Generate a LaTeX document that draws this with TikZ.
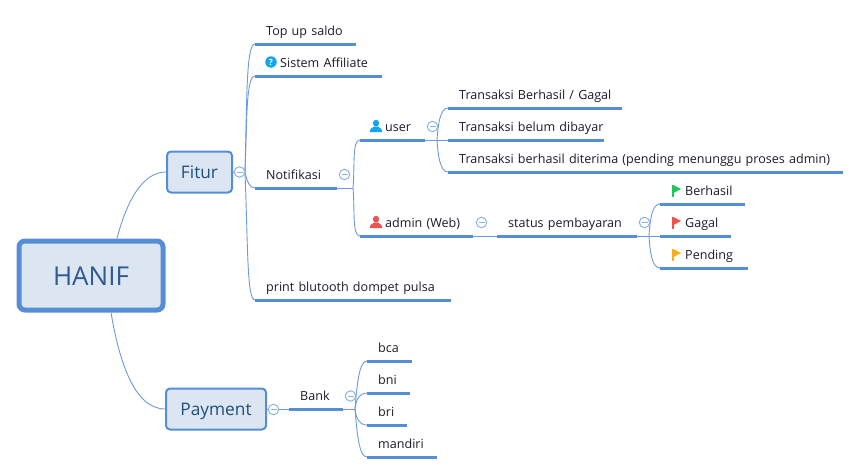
\documentclass[tikz,border=0pt]{standalone}
\usepackage{fontspec}
\setmainfont{Open Sans}
\definecolor{rulec}{HTML}{558ED5}
\definecolor{thinc}{HTML}{6C9BD9}
\definecolor{boxfill}{HTML}{DCE6F2}
\definecolor{titlec}{HTML}{2F5A8F}
\definecolor{subc}{HTML}{1F4E79}
\definecolor{leafc}{HTML}{1A1A2A}
\definecolor{foldc}{HTML}{8FB4E3}
\definecolor{iconblue}{HTML}{12A5F4}
\definecolor{iconred}{HTML}{F0524F}
\definecolor{icongreen}{HTML}{1FC45B}
\definecolor{iconorange}{HTML}{FBAE17}
\newcommand{\tx}[2]{\mbox{\hspace*{#1pt}#2}}
\tikzset{
  x=1pt,y=-1pt,
  topic/.style={anchor=south west,inner sep=0pt,minimum width=#1,minimum height=0pt,
    text width=#1,text height=10pt,text depth=8pt,text=leafc,font=\fontsize{12.55}{15}\selectfont},
  thin link/.style={draw=thinc,line width=0.9pt},
  root/.style={draw=rulec,fill=boxfill,line width=5pt,rounded corners=6pt,inner sep=0pt,
    minimum width=144pt,minimum height=69pt,text height=21pt,text depth=2pt,text=titlec,font=\fontsize{26}{30}\selectfont},
  main/.style={draw=rulec,fill=boxfill,line width=2pt,rounded corners=4pt,inner sep=0pt,
    minimum height=41pt,text height=14pt,text depth=2pt,text=subc,font=\fontsize{17.3}{20}\selectfont},
  fold/.style={circle,draw=foldc,fill=white,line width=1pt,minimum size=10.5pt,inner sep=0pt,
    path picture={\draw[foldc,line width=1pt] ([xshift=-3pt]path picture bounding box.center) -- ([xshift=3pt]path picture bounding box.center);}},
}
\newcommand{\flagicon}[3]{%
  \fill[#3] (#1,#2) rectangle ++(2,11.5);
  \fill[#3] (#1+1.5,#2) -- (#1+9,#2+4) -- (#1+1.5,#2+8) -- cycle;}
\newcommand{\personicon}[3]{%
  \fill[#3] (#1+6,#2+3.2) circle[x radius=3.2,y radius=3.4];
  \fill[#3] (#1,#2+12) -- (#1,#2+10) .. controls (#1,#2+8) and (#1+3,#2+8) .. (#1+4.5,#2+6.5)
     -- (#1+7.5,#2+6.5) .. controls (#1+9,#2+8) and (#1+12,#2+8) .. (#1+12,#2+10) -- (#1+12,#2+12) -- cycle;}
\begin{document}
\begin{tikzpicture}
\useasboundingbox (0,0) rectangle (860,474);
% boxes
\node[root] (hanif) at (91,275.5) {HANIF};
\node[main,minimum width=65pt] (fitur) at (199.5,172) {Fitur};
\node[main,minimum width=100pt] (payment) at (216,409) {Payment};
% topics (position = left end of the rule)
\node[topic=101pt] (top) at (255,44) {\tx{11}{Top up saldo}};
\node[topic=127pt] (aff) at (255,76) {\tx{25}{Sistem Affiliate}};
\node[topic=82pt] (notif) at (255,188) {\tx{11}{Notifikasi}};
\node[topic=196pt] (print) at (255,300) {\tx{11}{print blutooth dompet pulsa}};
\node[topic=65pt] (user) at (360,140) {\tx{25}{user}};
\node[topic=113pt] (admin) at (360,236) {\tx{25}{admin (Web)}};
\node[topic=174pt] (t1) at (448,108) {\tx{11}{Transaksi Berhasil / Gagal}};
\node[topic=156pt] (t2) at (448,140) {\tx{11}{Transaksi belum dibayar}};
\node[topic=395pt] (t3) at (448,172) {\tx{11}{Transaksi berhasil diterima (pending menunggu proses admin)}};
\node[topic=140pt] (status) at (497,236) {\tx{11}{status pembayaran}};
\node[topic=85pt] (ok) at (660,204) {\tx{25}{Berhasil}};
\node[topic=71pt] (fail) at (660,236) {\tx{25}{Gagal}};
\node[topic=88pt] (pend) at (660,268) {\tx{25}{Pending}};
\node[topic=54pt] (bank) at (289,409) {\tx{11}{Bank}};
\node[topic=45pt] (bca) at (367,361) {\tx{11}{bca}};
\node[topic=43pt] (bni) at (367,393) {\tx{11}{bni}};
\node[topic=40pt] (bri) at (367,425) {\tx{11}{bri}};
\node[topic=70pt] (mandiri) at (367,457) {\tx{11}{mandiri}};
% junction points
\coordinate (hubF) at (245,172);
\coordinate (hubN) at (353,188);
\coordinate (hubU) at (437,140);
\coordinate (hubS) at (649,236);
\coordinate (hubB) at (355,409);
% connectors
\draw[thin link] ([xshift=26pt]hanif.north) .. controls (127,200) and (143,172) .. (fitur.west);
\draw[thin link] ([xshift=20pt]hanif.south) .. controls (119,360) and (134,409) .. (payment.west);
\draw[thin link] (fitur.east) -- (hubF);
\draw[thin link] (hubF) .. controls (247,100) and (246,44) .. (top.south west);
\draw[thin link] (hubF) .. controls (247,120) and (246,76) .. (aff.south west);
\draw[thin link] (hubF) .. controls (247,182) and (250,188) .. (notif.south west);
\draw[thin link] (hubF) .. controls (248,250) and (247,300) .. (print.south west);
\draw[thin link] (notif.south east) -- (hubN);
\draw[thin link] (hubN) .. controls (355,165) and (352,140) .. (user.south west);
\draw[thin link] (hubN) .. controls (355,210) and (352,236) .. (admin.south west);
\draw[thin link] (user.south east) -- (hubU);
\draw[thin link] (hubU) .. controls (438,125) and (440,108) .. (t1.south west);
\draw[thin link] (hubU) -- (t2.south west);
\draw[thin link] (hubU) .. controls (438,155) and (440,172) .. (t3.south west);
\draw[thin link] (admin.south east) -- (status.south west);
\draw[thin link] (status.south east) -- (hubS);
\draw[thin link] (hubS) .. controls (650,220) and (652,204) .. (ok.south west);
\draw[thin link] (hubS) -- (fail.south west);
\draw[thin link] (hubS) .. controls (650,252) and (652,268) .. (pend.south west);
\draw[thin link] (payment.east) -- (bank.south west);
\draw[thin link] (bank.south east) -- (hubB);
\draw[thin link] (hubB) .. controls (357,385) and (359,361) .. (bca.south west);
\draw[thin link] (hubB) .. controls (356,400) and (359,393) .. (bni.south west);
\draw[thin link] (hubB) .. controls (356,418) and (359,425) .. (bri.south west);
\draw[thin link] (hubB) .. controls (357,433) and (359,457) .. (mandiri.south west);
% rules under the topics
\foreach \nn in {top,aff,notif,print,user,admin,t1,t2,t3,status,ok,fail,pend,bank,bca,bni,bri,mandiri}{
  \path[draw=rulec,line width=3pt] (\nn.south west) -- (\nn.south east);
}
% fold markers
\node[fold] (f1) at (239.5,172) {};
\node[fold] (f2) at (344.5,174.5) {};
\node[fold] (f3) at (432.5,126.5) {};
\node[fold] (f4) at (481.5,222.5) {};
\node[fold] (f5) at (644.5,222.5) {};
\node[fold] (f6) at (273.5,409.5) {};
\node[fold] (f7) at (350.5,396) {};
% icons
\node[circle,fill=iconblue,minimum size=11.5pt,inner sep=0pt,text=white,font=\fontsize{8.5}{9}\selectfont\bfseries] (qmark) at (271,62) {?};
\personicon{370}{120}{iconblue}
\personicon{370}{216}{iconred}
\flagicon{672}{185}{icongreen}
\flagicon{672}{217}{iconred}
\flagicon{672}{249}{iconorange}
\end{tikzpicture}
\end{document}
